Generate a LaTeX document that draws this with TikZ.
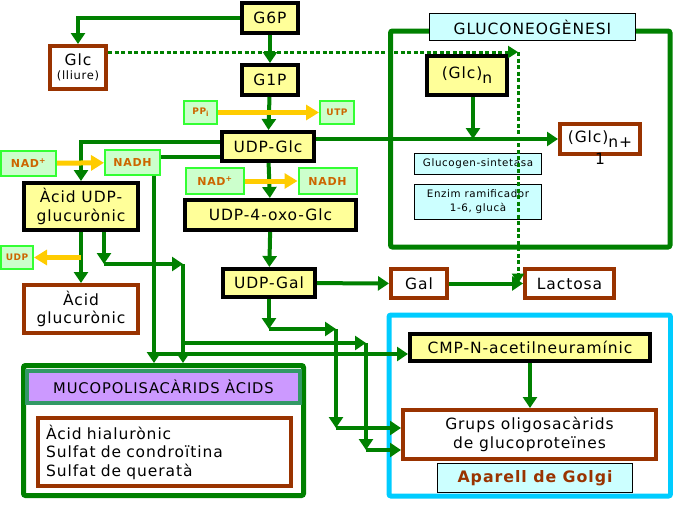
\documentclass[tikz,border=0pt]{standalone}
\usepackage{fontspec}
\setmainfont{DejaVu Sans}[LetterSpace=6]
\usepackage{tikz}
\usetikzlibrary{arrows.meta,calc}
\definecolor{pathGreen}{RGB}{0,128,0}
\definecolor{boxYellow}{RGB}{255,255,153}
\definecolor{prodBrown}{RGB}{153,51,0}
\definecolor{cofFill}{RGB}{204,255,204}
\definecolor{cofLine}{RGB}{51,255,51}
\definecolor{cofText}{RGB}{204,102,0}
\definecolor{feedYellow}{RGB}{255,204,0}
\definecolor{tagCyan}{RGB}{204,255,255}
\definecolor{golgiBlue}{RGB}{0,204,255}
\definecolor{mucoPurple}{RGB}{204,153,255}
\definecolor{mucoTeal}{RGB}{51,153,102}
\newcommand{\bigtxt}{\fontsize{15.5}{18.5}\selectfont}
\newcommand{\headtxt}{\fontsize{14.7}{17}\selectfont}
\newcommand{\smalltxt}{\fontsize{10.3}{14}\selectfont}
\newcommand{\coftxt}{\fontsize{11}{13}\selectfont\bfseries}
\newcommand{\tinytxt}{\fontsize{9}{11}\selectfont\bfseries}
\newcommand{\golgitxt}{\fontsize{15.8}{18}\selectfont\bfseries}

\begin{document}
\begin{tikzpicture}[x=1pt,y=-1pt,
  dims/.style 2 args={minimum width=#1,minimum height=#2},
  metab/.style={rectangle,draw=black,line width=4pt,fill=boxYellow,inner sep=0pt,align=center,font=\bigtxt},
  prod/.style={rectangle,draw=prodBrown,line width=4pt,fill=white,inner sep=0pt,align=center,font=\bigtxt},
  cofac/.style={rectangle,draw=cofLine,line width=2pt,fill=cofFill,inner sep=0pt,text=cofText,font=\coftxt},
  tag/.style={rectangle,draw=black,line width=0.8pt,fill=tagCyan,inner sep=0pt,align=center,font=\smalltxt},
  zone/.style={rectangle,draw=#1,line width=5pt,rounded corners=2pt,inner sep=0pt},
  link/.style={draw=pathGreen,line width=4pt,-{Triangle[length=11pt,width=14pt]}},
  wire/.style={draw=pathGreen,line width=4pt},
  feed/.style={draw=feedYellow,line width=5pt,-{Triangle[length=13pt,width=15pt]}},
  hint/.style={draw=pathGreen,line width=3pt,dash pattern=on 4pt off 2.5pt,-{Triangle[length=10pt,width=12pt]}}
]
\useasboundingbox (0,0) rectangle (673,520);
% frames
\node[zone=pathGreen,dims={279.5pt}{216pt}] (gluco) at (530.25,139) {};
\node[zone=golgiBlue,dims={281.5pt}{181pt}] (golgi) at (529.75,405.5) {};
\node[zone=pathGreen,dims={280pt}{130pt}] (muco) at (163.5,430.5) {};

% main chain
\node[metab,dims={56pt}{30pt}] (G6P) at (270,18) {G6P};
\node[prod,dims={56pt}{43pt}] (Glc) at (78,67.5) {Glc\\[-4pt]{\fontsize{11.5}{12}\selectfont(lliure)}};
\node[metab,dims={56pt}{30pt}] (G1P) at (270,80) {G1P};
\node[cofac,dims={33pt}{23pt},font=\tinytxt] (PPi) at (200.5,112.5) {PP\raisebox{-2pt}{\fontsize{7}{8}\selectfont i}};
\node[cofac,dims={34pt}{23pt},font=\tinytxt] (UTP) at (337,112.5) {UTP};
\node[metab,dims={92pt}{29pt}] (UDPGlc) at (268,146.5) {UDP-Glc};
\node[cofac,dims={55pt}{25pt}] (NADl) at (28.5,163.5) {NAD\textsuperscript{+}};
\node[cofac,dims={55pt}{25pt}] (NADHl) at (132.5,162.5) {NADH};
\node[metab,dims={114pt}{47pt}] (AcUDP) at (81,206.5) {Àcid UDP-\\glucurònic};
\node[cofac,dims={32pt}{23pt},font=\tinytxt] (UDP) at (17,257.5) {UDP};
\node[prod,dims={114pt}{48pt}] (AcGlc) at (81,309) {Àcid\\glucurònic};
\node[cofac,dims={58pt}{26pt}] (NADm) at (215,181) {NAD\textsuperscript{+}};
\node[cofac,dims={58pt}{26pt}] (NADHm) at (327.5,181) {NADH};
\node[metab,dims={171pt}{30pt}] (UDPoxo) at (270.5,215) {UDP-4-oxo-Glc};
\node[metab,dims={92pt}{28pt}] (UDPGal) at (269,283) {UDP-Gal};
\node[prod,dims={56pt}{29pt}] (Gal) at (419,283.5) {Gal};
\node[prod,dims={89pt}{29pt}] (Lac) at (569.5,283.5) {Lactosa};

% glycogen
\node[tag,dims={206pt}{27pt},font=\bigtxt] (glucoT) at (532.5,27) {GLUCONEOGÈNESI};
\node[metab,dims={80pt}{39pt}] (Glcn) at (467,75.5) {(Glc)\raisebox{-5pt}{n}};
\node[prod,dims={80pt}{30pt},label={[font=\bigtxt,inner sep=0pt,label distance=-3pt]below:1}] (Glcn1) at (600,139) {(Glc)\raisebox{-5pt}{n+}};
\node[tag,dims={127pt}{21pt}] (sint) at (478,164) {Glucogen-sintetasa};
\node[tag,dims={127pt}{35pt}] (ramif) at (478,202) {Enzim ramificador\\1-6, glucà};

% golgi
\node[metab,dims={240pt}{27pt}] (CMP) at (530,347.5) {CMP-N-acetilneuramínic};
\node[prod,dims={253pt}{49pt}] (Grups) at (529.5,434.5) {Grups oligosacàrids\\de glucoproteïnes};
\node[tag,dims={195pt}{29pt},font=\golgitxt,text=prodBrown] (golgiT) at (535,478) {Aparell de Golgi};

% mucopolysaccharides
\node[rectangle,draw=mucoTeal,line width=4pt,fill=mucoPurple,dims={273pt}{32pt},font=\headtxt] (mucoT) at (163.5,387) {MUCOPOLISACÀRIDS ÀCIDS};
\node[prod,dims={253pt}{68pt},text width=237pt,align=left] (mucoL) at (164.5,452) {Àcid hialurònic\\Sulfat de condroïtina\\Sulfat de queratà};

% trunk
\draw[link] (G6P) -- (G1P);
\draw[link] (G1P) -- (UDPGlc);
\draw[link] (UDPGlc) -- (UDPoxo);
\draw[link] (UDPoxo) -- (UDPGal);
\draw[link] (UDPGal) -- (Gal);
\draw[link] (Gal) -- (Lac);
\draw[link] (G6P.west) -| (Glc.north);

% glycogen synthesis
\draw[link] (UDPGlc.east |- Glcn1.west) -- (Glcn1.west);
\draw[link] ([xshift=6pt]Glcn.south) -- ([xshift=6pt]Glcn.south |- Glcn1.west);

% glucuronate
\draw[link] ([yshift=5pt]UDPGlc.west) -| (AcUDP.north);
\draw[wire] ([yshift=-10pt]UDPGlc.west) -- ([yshift=-10pt]UDPGlc.west -| NADHl.east);
\draw[link] (AcUDP) -- (AcGlc);

% bus from NADH
\coordinate (nadhBus) at (154,354);
\draw[link] (NADHl.south -| nadhBus) -- (nadhBus |- muco.north);
\draw[link] (nadhBus) -- (nadhBus -| CMP.west);

% branch from acid UDP-glucuronic
\coordinate (glcA) at (104,264);
\coordinate (glcB) at (183,264);
\coordinate (glcC) at (366,343);
\coordinate (glcD) at (366,450);
\draw[link] (AcUDP.south -| glcA) -- (glcA);
\draw[link] (glcA) -- (glcB);
\draw[link] (glcB) -- (glcB |- muco.north);
\draw[link] (glcB |- glcC) -- (glcC);
\draw[link] (glcC) -- (glcD);
\draw[link] (glcD) -- (glcD -| Grups.west);

% branch from UDP-Gal
\coordinate (galA) at (269,329);
\coordinate (galB) at (336,329);
\coordinate (galC) at (336,428);
\draw[link] (UDPGal.south) -- (galA);
\draw[link] (galA) -- (galB);
\draw[link] (galB) -- (galC);
\draw[link] (galC) -- (galC -| Grups.west);

% sialic acid
\draw[link] (CMP.south) -- (CMP.south |- Grups.north);

% cofactors
\draw[feed] (PPi) -- (UTP);
\draw[feed] (NADm) -- (NADHm);
\draw[feed] (NADl) -- (NADHl);
\draw[feed] (AcUDP.south |- UDP.east) -- (UDP.east);

% free glucose
\coordinate (lacTop) at (518,52);
\draw[hint] ([yshift=15.5pt]Glc.east) -- (lacTop);
\draw[hint] (lacTop) -- (lacTop |- Lac.west);
\end{tikzpicture}
\end{document}
